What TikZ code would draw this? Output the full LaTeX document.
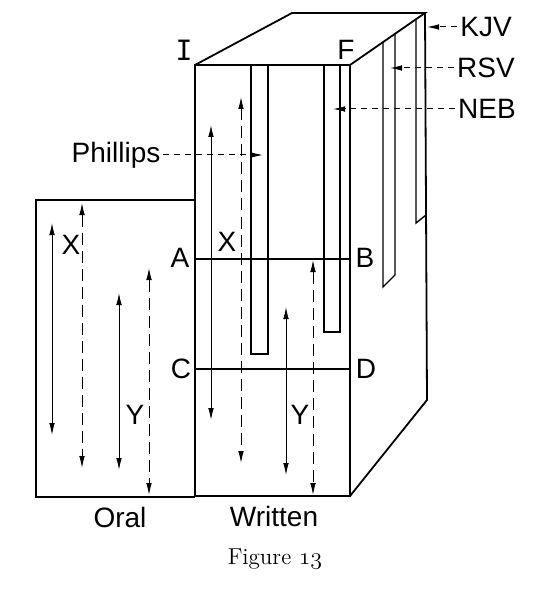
\documentclass[tikz,border=0pt]{standalone}
\usepackage{fontspec}
\setsansfont{Liberation Sans}
\newfontfamily\barfont{DejaVu Sans Mono}
\usepackage{tikz}
\usetikzlibrary{arrows.meta}

\begin{document}
\begin{tikzpicture}[x=0.5pt,y=-0.5pt,>={Latex[length=6pt,width=2.8pt]},
		line width=0.9pt,font=\sffamily\fontsize{14}{16}\selectfont]
		\tikzstyle{every node}=[inner sep=1pt]
		\tikzstyle{slot}=[line width=0.7pt]
		\tikzstyle{twoway}=[<->,line width=0.5pt]
		\tikzstyle{longdash}=[dash pattern=on 6pt off 3pt]
		\tikzstyle{pointer}=[->,line width=0.5pt,dash pattern=on 3pt off 2.5pt]
		
		\useasboundingbox (0,0) rectangle (535,604);
		
		\draw (195,65) rectangle (350,496);
		\draw (195,65) -- (292,13) -- (425,13) -- (350,65);
		\draw (425,13) -- (427,400) -- (350,496);
		\draw (195,200) -- (36,200) -- (36,497) -- (195,497);
		\draw[slot] (195,259) -- (350,259);
		\draw[slot] (195,369) -- (350,369);
		
		\draw[slot] (251,65) -- (251,354) -- (268,354) -- (268,65);
		\draw[slot] (324,65) -- (324,332) -- (340,332) -- (340,65);
		\draw[slot] (383,42) -- (383,287) -- (395,275) -- (395,34);
		\draw[slot] (416,19) -- (416,223) -- (426,215);
		
		\foreach \n/\x/\ya/\yb/\s in {oxs/52/223/435/solid, oxd/82/203/468/longdash,
			oys/119/293/470/solid, oyd/149/268/495/longdash,
			wxs/211/125/420/solid, wxd/241/97/463/longdash,
			wys/286/307/475/solid, wyd/313/260/495/longdash}
		{
			\coordinate (\n-up) at (\x,\ya);
			\coordinate (\n-down) at (\x,\yb);
			\draw[twoway,\s] (\n-up) -- (\n-down);
		}
		
		\node (I) at (184,50) {\barfont I};
		\node (F) at (346,50) {F};
		\node (A) at (180,258) {A};
		\node (B) at (365,258) {B};
		\node (C) at (181,369) {C};
		\node (D) at (366,369) {D};
		\node (oX) at (71,245) {X};
		\node (oY) at (135,415) {Y};
		\node (wX) at (227,242) {X};
		\node (wY) at (300,415) {Y};
		\node (oral) at (120,517) {Oral};
		\node (written) at (274,516) {Written};
		\node[font=\rmfamily\fontsize{11.5}{14}\selectfont] (caption) at (275,559)
			{Figure $\mathnormal{13}$};
		
		\node (kjv) at (486,27) {KJV};
		\node (rsv) at (486,68) {RSV};
		\node (neb) at (487,109) {NEB};
		\node (phillips) at (116,155) {Phillips};
		\coordinate (kjv-tip) at (427,27);
		\coordinate (rsv-tip) at (390,68);
		\coordinate (neb-tip) at (333,109);
		\coordinate (phillips-tip) at (263,155);
		
		\draw[pointer] (kjv) -- (kjv-tip);
		\draw[pointer] (rsv) -- (rsv-tip);
		\draw[pointer] (neb) -- (neb-tip);
		\draw[pointer] (phillips) -- (phillips-tip);
		
\end{tikzpicture}
\end{document}
